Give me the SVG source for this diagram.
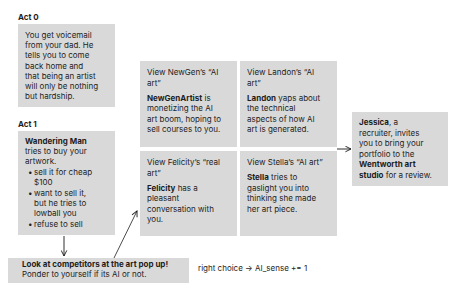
<svg xmlns="http://www.w3.org/2000/svg" width="460" height="306" viewBox="0 0 460 306">
<defs>
<style>
text{font-family:Inter,"Noto Sans","Liberation Sans",sans-serif;font-size:8px;fill:#1e1e1e}
.b{font-weight:700}
.box{fill:#d9d9d9}
.ln{fill:none;stroke:#757575;stroke-width:1.5}
.thin{fill:none;stroke:#1e1e1e;stroke-width:0.8}
</style>
<marker id="ah" viewBox="0 0 10 10" refX="9" refY="5" markerWidth="7" markerHeight="7" markerUnits="userSpaceOnUse" orient="auto"><path d="M1,1 L9,5 L1,9" fill="none" stroke="#1e1e1e" stroke-width="1.3"/></marker>
</defs>
<rect width="460" height="306" fill="#fff"/>
<g id="act0">
<text x="18" y="20" class="b">Act 0</text>
<rect class="box" x="18" y="24" width="97" height="83"/>
<text x="25" y="38">You get voicemail</text>
<text x="25" y="48.2">from your dad. He</text>
<text x="25" y="58.4">tells you to come</text>
<text x="25" y="68.6">back home and</text>
<text x="25" y="78.8">that being an artist</text>
<text x="25" y="89">will only be nothing</text>
<text x="25" y="99.2">but hardship.</text>
</g>
<g id="act1">
<text x="18" y="127" class="b">Act 1</text>
<rect class="box" x="18" y="131" width="97" height="104"/>
<text x="25" y="144" class="b">Wandering Man</text>
<text x="25" y="154.2">tries to buy your</text>
<text x="25" y="164.4">artwork.</text>
<text x="28" y="175">•</text><text x="34" y="175">sell it for cheap</text>
<text x="34" y="185.2">$100</text>
<text x="28" y="195.8">•</text><text x="34" y="195.8">want to sell it,</text>
<text x="34" y="206">but he tries to</text>
<text x="34" y="216.2">lowball you</text>
<text x="28" y="226.6">•</text><text x="34" y="226.6">refuse to sell</text>
</g>
<g id="newgen">
<rect class="box" x="140" y="61" width="97" height="86"/>
<text x="147" y="75">View NewGen’s “AI</text>
<text x="147" y="85.5">art”</text>
<text x="147" y="100.5"><tspan class="b">NewGenArtist</tspan> is</text>
<text x="147" y="111">monetizing the AI</text>
<text x="147" y="121.5">art boom, hoping to</text>
<text x="147" y="132">sell courses to you.</text>
</g>
<g id="landon">
<rect class="box" x="240" y="61" width="97" height="86"/>
<text x="247" y="75">View Landon’s “AI</text>
<text x="247" y="85.5">art”</text>
<text x="247" y="100.5"><tspan class="b">Landon</tspan> yaps about</text>
<text x="247" y="111">the technical</text>
<text x="247" y="121.5">aspects of how AI</text>
<text x="247" y="132">art is generated.</text>
</g>
<g id="felicity">
<rect class="box" x="140" y="151" width="97" height="85"/>
<text x="147" y="165">View Felicity’s “real</text>
<text x="147" y="175.5">art”</text>
<text x="147" y="190.5"><tspan class="b">Felicity</tspan> has a</text>
<text x="147" y="201">pleasant</text>
<text x="147" y="211.5">conversation with</text>
<text x="147" y="222">you.</text>
</g>
<g id="stella">
<rect class="box" x="240" y="151" width="97" height="85"/>
<text x="247" y="165">View Stella’s “AI art”</text>
<text x="247" y="180"><tspan class="b">Stella</tspan> tries to</text>
<text x="247" y="190.5">gaslight you into</text>
<text x="247" y="201">thinking she made</text>
<text x="247" y="211.5">her art piece.</text>
</g>
<g id="jessica">
<rect class="box" x="352" y="112" width="96" height="74"/>
<text x="359" y="125"><tspan class="b">Jessica</tspan>, a</text>
<text x="359" y="135.5">recruiter, invites</text>
<text x="359" y="146">you to bring your</text>
<text x="359" y="156.5">portfolio to the</text>
<text x="359" y="167" class="b">Wentworth art</text>
<text x="359" y="177.5"><tspan class="b">studio</tspan> for a review.</text>
</g>
<g id="competitors">
<rect class="box" x="8" y="258" width="181" height="25"/>
<text x="22" y="267" class="b">Look at competitors at the art pop up!</text>
<text x="22" y="277">Ponder to yourself if its AI or not.</text>
</g>
<g id="note">
<text x="198" y="271">right choice → AI_sense += 1</text>
</g>
<g id="connectors">
<line class="ln" x1="64" y1="236" x2="64" y2="256" marker-end="url(#ah)"/>
<line class="thin" x1="114" y1="258" x2="137" y2="211" marker-end="url(#ah)"/>
<line class="ln" x1="337" y1="149" x2="351" y2="149" marker-end="url(#ah)"/>
</g>
</svg>
